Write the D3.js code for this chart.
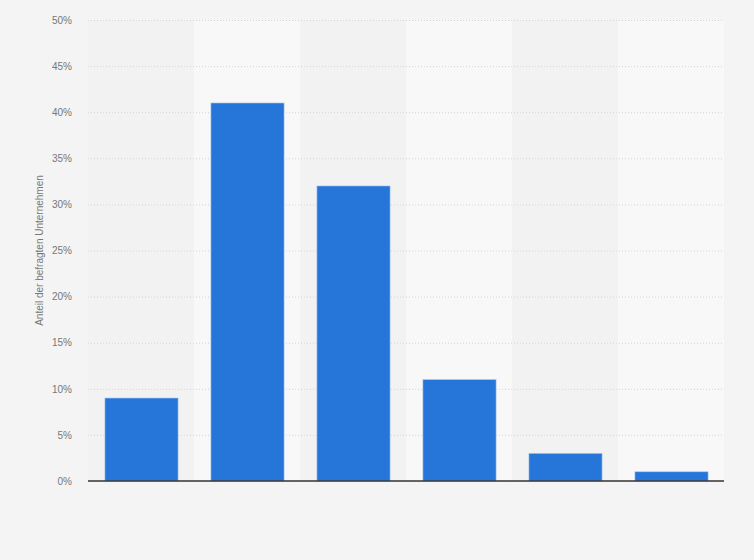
<!DOCTYPE html>
<html><head><meta charset="utf-8">
<script src="https://cdn.jsdelivr.net/npm/d3@7"></script>
<style>
html,body{margin:0;padding:0;background:#f4f4f4;}
svg{display:block;font-family:"Liberation Sans",Arial,sans-serif;}
</style></head><body>
<svg id="c" width="754" height="560"></svg>
<script>
const categories = ["A","B","C","D","E","F"];
const values = [9, 41, 32, 11, 3, 1];
const yTicks = [0,5,10,15,20,25,30,35,40,45,50];
const yTitle = "Anteil der befragten Unternehmen";

const svg = d3.select("#c");
const m = {left:88, right:30, top:20, bottom:79};
const W = 754, H = 560;
const xb = d3.scaleBand().domain(categories).range([m.left, W-m.right]);
const barW = xb.bandwidth()*0.69;
const y = d3.scaleLinear().domain([0,50]).range([H-m.bottom, m.top]);

svg.append("rect").attr("width",W).attr("height",H).attr("fill","#f4f4f4");
// bands
svg.append("g").selectAll("rect").data(categories).join("rect")
  .attr("x", d=>xb(d)).attr("width", xb.bandwidth())
  .attr("y", y(50)).attr("height", y(0)-y(50))
  .attr("fill", (d,i)=> i%2 ? "#f8f8f8" : "#f2f2f2");

// axis labels
const ax = d3.axisLeft(y).tickValues(yTicks).tickFormat(d=>d+"%").tickSize(0).tickPadding(16);
const g = svg.append("g").attr("transform",`translate(${m.left},0)`).call(ax);
g.select(".domain").remove();
g.selectAll("text").attr("fill","#777").attr("font-size","10px");
// grid
svg.append("g").selectAll("line").data(yTicks.filter(t=>t>0)).join("line")
  .attr("x1", m.left).attr("x2", W-m.right)
  .attr("y1", d=>y(d)+0.5).attr("y2", d=>y(d)+0.5)
  .attr("stroke","#d4d4d4").attr("stroke-width",1).attr("stroke-dasharray","1,2");

// bars
svg.append("g").selectAll("rect").data(values).join("rect")
  .attr("x",(d,i)=>xb(categories[i]) + (xb.bandwidth()-barW)/2 + 0.5).attr("width",barW)
  .attr("y",d=>y(d)).attr("height",d=>y(0)-y(d))
  .attr("fill","#2675d9").attr("stroke","#a9c8ee").attr("stroke-width",0.6);

// baseline
svg.append("line").attr("x1",m.left).attr("x2",W-m.right)
  .attr("y1",y(0)).attr("y2",y(0)).attr("stroke","#333").attr("stroke-width",1.5);

// y title
svg.append("text").attr("transform",`translate(43,${(y(0)+y(50))/2}) rotate(-90)`)
  .attr("text-anchor","middle").attr("font-size","10px").attr("fill","#777").text(yTitle);
</script>
</body></html>
